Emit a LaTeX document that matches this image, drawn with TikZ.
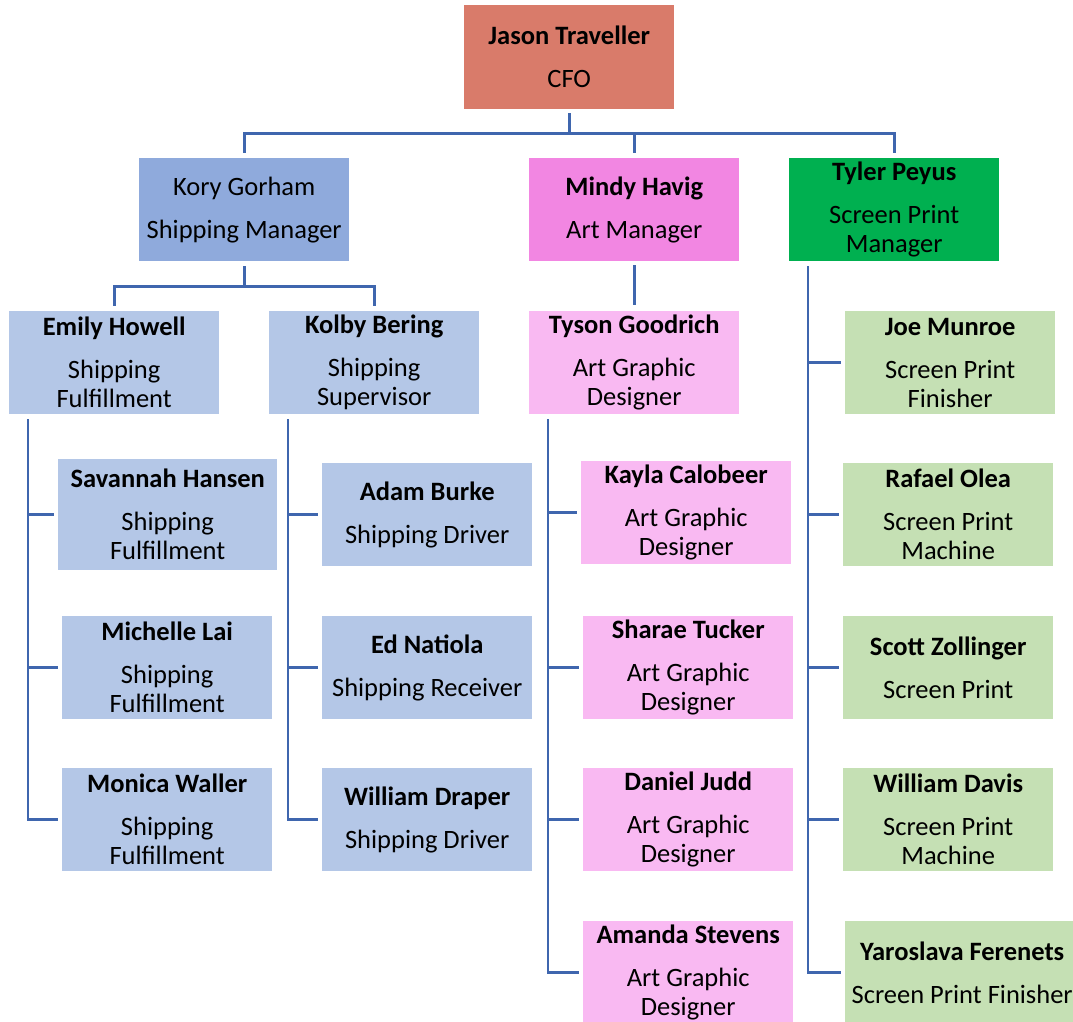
\documentclass[tikz,border=0pt]{standalone}
\usepackage{fontspec}
\setmainfont{Carlito}
\usetikzlibrary{positioning}

\definecolor{cfoRed}{HTML}{D97B6A}
\definecolor{shipDark}{HTML}{8FAADC}
\definecolor{shipLight}{HTML}{B4C7E7}
\definecolor{artDark}{HTML}{F286E2}
\definecolor{artLight}{HTML}{F9B9F2}
\definecolor{printDark}{HTML}{00B050}
\definecolor{printLight}{HTML}{C5E0B4}
\definecolor{lineBlue}{HTML}{3F66AE}

\tikzset{
	box/.style={anchor=north west, minimum width=210pt, minimum height=103pt, inner sep=0pt, align=center, font=\fontsize{26.5}{29}\selectfont},
	link/.style={draw=lineBlue, line width=2.8pt},
}

\begin{document}
\begin{tikzpicture}[x=1pt,y=1pt]

	\useasboundingbox (0,0) rectangle (1073,-1022);

	\node[box, fill=cfoRed, minimum height=104pt] at (464,-5) (jason) {\textbf{Jason Traveller}\\[14pt]CFO};

	\node[box, fill=shipDark] at (139,-158) (kory) {Kory Gorham\\[14pt]Shipping Manager};
	\node[box, fill=artDark] at (529,-158) (mindy) {\textbf{Mindy Havig}\\[14pt]Art Manager};
	\node[box, fill=printDark] at (789,-158) (tyler) {\textbf{Tyler Peyus}\\[14pt]Screen Print\\Manager};

	\node[box, fill=shipLight] at (9,-311) (emily) {\textbf{Emily Howell}\\[14pt]Shipping\\Fulfillment};
	\node[box, fill=shipLight] at (269,-311) (kolby) {\textbf{Kolby Bering}\\[14pt]Shipping\\Supervisor};
	\node[box, fill=artLight] at (529,-311) (tyson) {\textbf{Tyson Goodrich}\\[14pt]Art Graphic\\Designer};
	\node[box, fill=printLight] at (845,-311) (joe) {\textbf{Joe Munroe}\\[14pt]Screen Print\\Finisher};

	\node[box, fill=shipLight, minimum width=219pt, minimum height=111pt] at (58,-459) (savannah) {\textbf{Savannah Hansen}\\[14pt]Shipping\\Fulfillment};
	\node[box, fill=shipLight] at (62,-616) (michelle) {\textbf{Michelle Lai}\\[14pt]Shipping\\Fulfillment};
	\node[box, fill=shipLight] at (62,-768) (monica) {\textbf{Monica Waller}\\[14pt]Shipping\\Fulfillment};

	\node[box, fill=shipLight] at (322,-463) (adam) {\textbf{Adam Burke}\\[14pt]Shipping Driver};
	\node[box, fill=shipLight] at (322,-616) (ed) {\textbf{Ed Natiola}\\[14pt]Shipping Receiver};
	\node[box, fill=shipLight] at (322,-768) (wdraper) {\textbf{William Draper}\\[14pt]Shipping Driver};

	\node[box, fill=artLight] at (581,-461) (kayla) {\textbf{Kayla Calobeer}\\[14pt]Art Graphic\\Designer};
	\node[box, fill=artLight] at (583,-616) (sharae) {\textbf{Sharae Tucker}\\[14pt]Art Graphic\\Designer};
	\node[box, fill=artLight] at (583,-768) (daniel) {\textbf{Daniel Judd}\\[14pt]Art Graphic\\Designer};
	\node[box, fill=artLight] at (583,-921) (amanda) {\textbf{Amanda Stevens}\\[14pt]Art Graphic\\Designer};

	\node[box, fill=printLight] at (843,-463) (rafael) {\textbf{Rafael Olea}\\[14pt]Screen Print\\Machine};
	\node[box, fill=printLight] at (843,-616) (scott) {\textbf{Scott Zollinger}\\[14pt]Screen Print};
	\node[box, fill=printLight] at (843,-768) (wdavis) {\textbf{William Davis}\\[14pt]Screen Print\\Machine};
	\node[box, fill=printLight, minimum width=234pt] at (845,-921) (yaroslava) {\textbf{Yaroslava Ferenets}\\[14pt]Screen Print Finisher};

	\draw[link] ([yshift=-4pt]jason.south) -- ++(0,-20) coordinate (cfoBus);
	\foreach \n in {kory,mindy,tyler}
		\draw[link] (cfoBus) -| ([yshift=5pt]\n.north);

	\draw[link] ([yshift=-5pt]kory.south) -- ++(0,-20) coordinate (shipBus);
	\foreach \n in {emily,kolby}
		\draw[link] (shipBus) -| ([yshift=5pt]\n.north);

	\draw[link] ([yshift=-4pt]mindy.south) -- ([yshift=6pt]tyson.north);

	\foreach \p/\kids in {emily/{savannah,michelle,monica}, kolby/{adam,ed,wdraper}, tyson/{kayla,sharae,daniel,amanda}, tyler/{joe,rafael,scott,wdavis,yaroslava}}
		\foreach \k in \kids
			\draw[link] ([xshift=19pt,yshift=-5pt]\p.south west) |- ([xshift=-4pt]\k.west);

\end{tikzpicture}
\end{document}
